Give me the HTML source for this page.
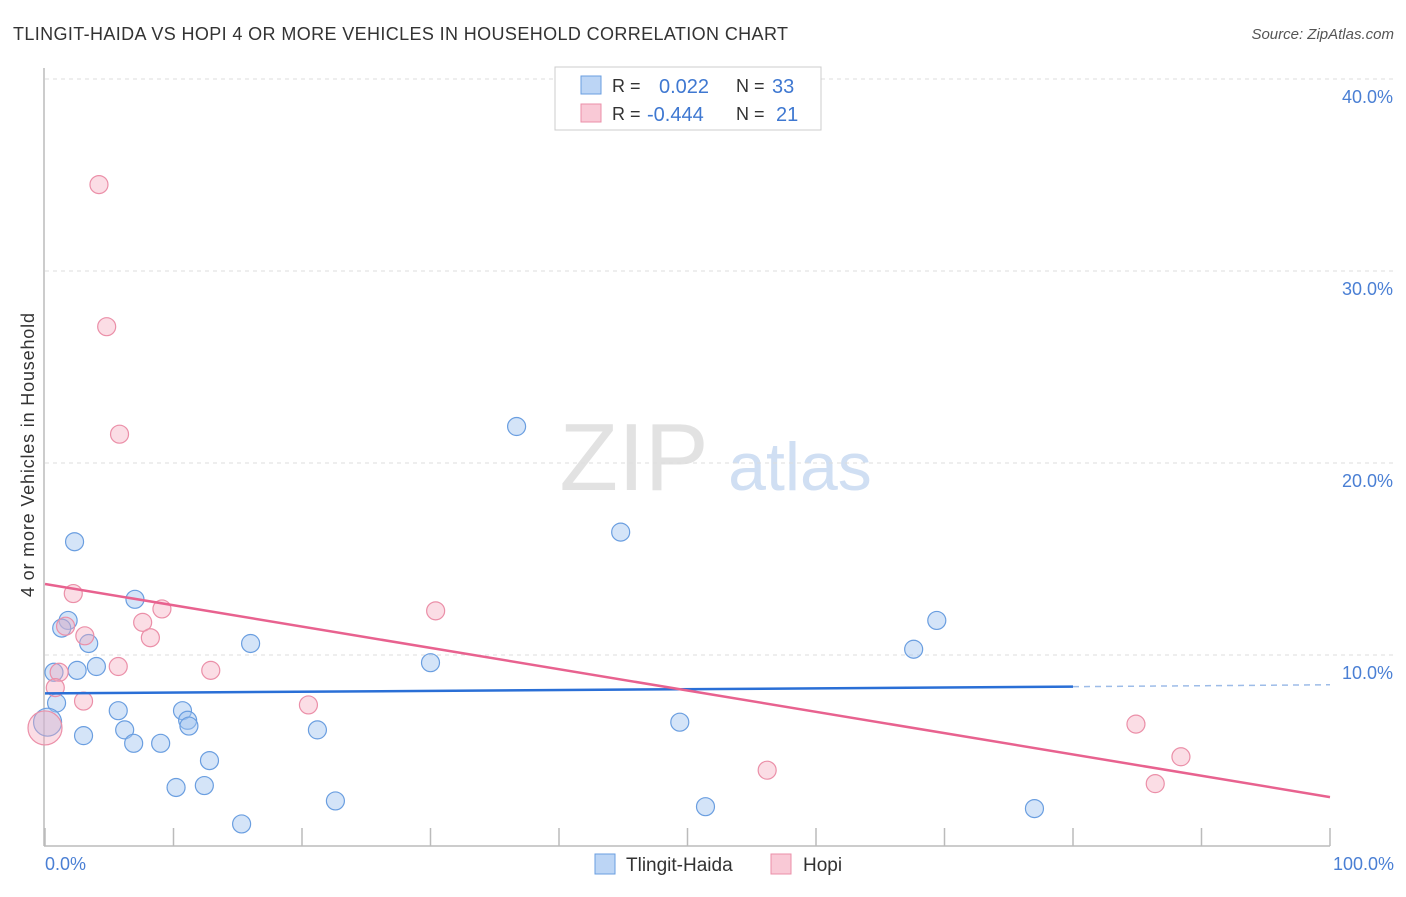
<!DOCTYPE html>
<html><head><meta charset="utf-8"><style>
body{margin:0;background:#fff;font-family:"Liberation Sans",sans-serif;}
svg text{font-family:"Liberation Sans",sans-serif;}
</style></head><body>
<svg width="1406" height="892">
<text x="13" y="40" font-size="18" fill="#333" textLength="775" lengthAdjust="spacing">TLINGIT-HAIDA VS HOPI 4 OR MORE VEHICLES IN HOUSEHOLD CORRELATION CHART</text>
<text x="1394" y="39" font-size="15" fill="#555" font-style="italic" text-anchor="end">Source: ZipAtlas.com</text>
<text x="634" y="490" font-size="96" fill="#e2e2e2" font-family="Liberation Serif" text-anchor="middle">ZIP</text>
<text x="800" y="490" font-size="68" fill="#d0dff3" text-anchor="middle">atlas</text>
<g id="grid"></g><g id="axes"></g><g id="marks"></g>
<text transform="translate(34,455) rotate(-90)" font-size="18" fill="#333" text-anchor="middle" textLength="284" lengthAdjust="spacing">4 or more Vehicles in Household</text>
<text x="45" y="870" font-size="18" fill="#4a7fd4">0.0%</text>
<text x="1394" y="870" font-size="18" fill="#4a7fd4" text-anchor="end">100.0%</text>
<g>
<rect x="555" y="67" width="266" height="63" fill="#fff" stroke="#ccc"/>
<rect x="581" y="76" width="20" height="18" fill="#bcd5f5" stroke="#6a9ee0"/>
<text x="612" y="92" font-size="18" fill="#333">R =</text><text x="659" y="93" font-size="20" fill="#3f78d1">0.022</text>
<text x="736" y="92" font-size="18" fill="#333">N =</text><text x="772" y="93" font-size="20" fill="#3f78d1">33</text>
<rect x="581" y="104" width="20" height="18" fill="#f9c9d6" stroke="#eb8fa8"/>
<text x="612" y="120" font-size="18" fill="#333">R =</text><text x="647" y="121" font-size="20" fill="#3f78d1">-0.444</text>
<text x="736" y="120" font-size="18" fill="#333">N =</text><text x="776" y="121" font-size="20" fill="#3f78d1">21</text>
</g>
<g>
<rect x="595" y="854" width="20" height="20" fill="#bcd5f5" stroke="#6a9ee0"/>
<text x="626" y="871" font-size="19" fill="#333">Tlingit-Haida</text>
<rect x="771" y="854" width="20" height="20" fill="#f9c9d6" stroke="#eb8fa8"/>
<text x="803" y="871" font-size="19" fill="#333">Hopi</text>
</g>
</svg>
<script>
const yTicks=[10,20,30,40];
const yTickLabels=["10.0%","20.0%","30.0%","40.0%"];
const xTicks=[0,10,20,30,40,50,60,70,80,90,100];
const blueX=[2.3,7.0,1.8,1.3,3.4,16.0,4.0,2.5,0.7,30.0,0.9,5.7,10.7,11.1,11.2,6.2,21.2,3.0,9.0,6.9,12.8,10.2,12.4,22.6,15.3,36.7,44.8,67.6,69.4,49.4,51.4,77.0,0.2];
const blueY=[15.9,12.9,11.8,11.4,10.6,10.6,9.4,9.2,9.1,9.6,7.5,7.1,7.1,6.6,6.3,6.1,6.1,5.8,5.4,5.4,4.5,3.1,3.2,2.4,1.2,21.9,16.4,10.3,11.8,6.5,2.1,2.0,6.5];
const blueR=[9,9,9,9,9,9,9,9,9,9,9,9,9,9,9,9,9,9,9,9,9,9,9,9,9,9,9,9,9,9,9,9,14];
const pinkX=[4.2,4.8,5.8,2.2,9.1,7.6,1.6,3.1,8.2,30.4,5.7,12.9,1.1,0.8,3.0,20.5,56.2,84.9,88.4,86.4,0];
const pinkY=[34.5,27.1,21.5,13.2,12.4,11.7,11.5,11.0,10.9,12.3,9.4,9.2,9.1,8.3,7.6,7.4,4.0,6.4,4.7,3.3,6.2];
const pinkR=[9,9,9,9,9,9,9,9,9,9,9,9,9,9,9,9,9,9,9,9,17];
const blueTrend=[8.0,8.35,8.45];
const pinkTrend=[13.7,2.6];
const NS="http://www.w3.org/2000/svg";
const sx=v=>45+v*12.85, sy=v=>847-v*19.2;
function mk(p,t,a){const e=document.createElementNS(NS,t);for(const k in a)e.setAttribute(k,a[k]);document.getElementById(p).appendChild(e);return e;}
yTicks.forEach((t,i)=>{
 const l=mk('grid','line',{x1:45,x2:1393,y1:sy(t),y2:sy(t),stroke:'#ddd','stroke-dasharray':'4,4'});
 
 
 const tx=mk('grid','text',{x:1393,y:sy(t)+24,'font-size':18,fill:'#4a7fd4','text-anchor':'end'});tx.textContent=yTickLabels[i];
 
 
});
const ax=mk('axes','line',{x1:44,x2:44,y1:68,y2:846,stroke:'#bbb','stroke-width':1.5});


const bx=mk('axes','line',{x1:44,x2:1330,y1:846,y2:846,stroke:'#bbb','stroke-width':1.5});


xTicks.forEach(t=>{const l=mk('axes','line',{x1:sx(t),x2:sx(t),y1:828,y2:846,stroke:'#bbb','stroke-width':1.5});
 
 });
blueX.forEach((v,i)=>{const c=mk('marks','circle',{cx:sx(v),cy:sy(blueY[i]),r:blueR[i],fill:'rgba(160,195,240,0.45)',stroke:'#6a9ee0','stroke-width':1.2});
 
 });
pinkX.forEach((v,i)=>{const c=mk('marks','circle',{cx:sx(v),cy:sy(pinkY[i]),r:pinkR[i],fill:'rgba(245,170,190,0.4)',stroke:'#eb8fa8','stroke-width':1.2});
 
 });
let t1=mk('marks','line',{x1:sx(0),y1:sy(blueTrend[0]),x2:sx(80),y2:sy(blueTrend[1]),stroke:'#2a6fd6','stroke-width':2.5});


let t2=mk('marks','line',{x1:sx(80),y1:sy(blueTrend[1]),x2:sx(100),y2:sy(blueTrend[2]),stroke:'#9dbce8','stroke-width':1.5,'stroke-dasharray':'6,5'});


let t3=mk('marks','line',{x1:sx(0),y1:sy(pinkTrend[0]),x2:sx(100),y2:sy(pinkTrend[1]),stroke:'#e8628f','stroke-width':2.5});


</script>
</body></html>
